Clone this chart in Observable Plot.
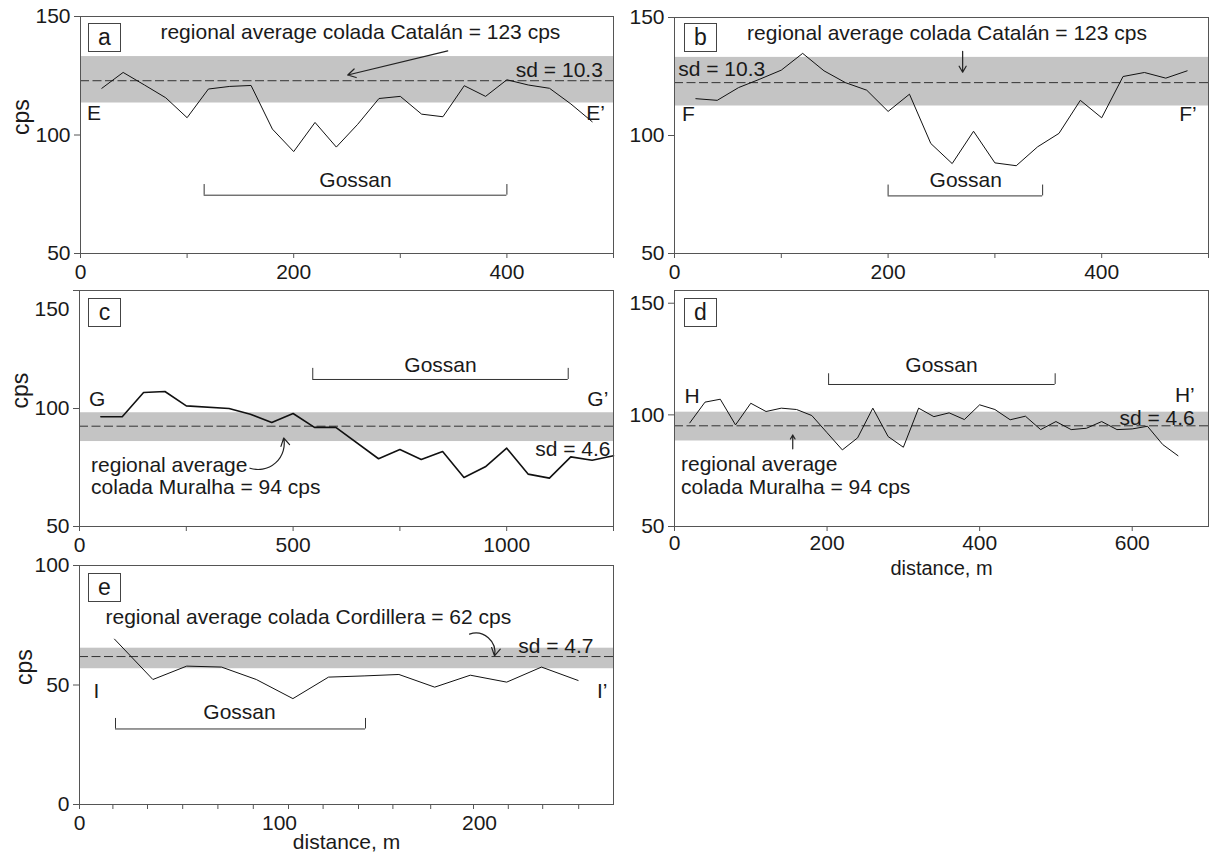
<!DOCTYPE html>
<html><head><meta charset="utf-8">
<script src="https://cdn.jsdelivr.net/npm/d3@7"></script>
<script src="https://cdn.jsdelivr.net/npm/@observablehq/plot@0.6"></script>
<style>
body{margin:0;background:#fff}
#fig{position:relative;width:1210px;height:859px;font-family:"Liberation Sans",Arial,sans-serif;overflow:hidden}
#fig svg{position:absolute}
.box{position:absolute;width:31px;height:27px;border:1px solid #444;background:#fff;font-size:23px;line-height:26px;text-align:center;color:#1a1a1a}
</style>
</head><body><div id="fig"></div>
<script>
// ---- data ----
const aX = [20,40,60,80,100,120,140,160,180,200,220,240,260,280,300,320,340,360,380,400,420,440,460,480];
const aY = [119.7,126.4,121.1,115.7,107.3,119.4,120.5,120.9,102.5,93.0,105.3,94.9,104.5,115.4,116.3,108.8,107.7,120.8,116.3,123.3,121.1,119.7,113.1,105.6];
const bX = [20,40,60,80,100,120,140,160,180,200,220,240,260,280,300,320,340,360,380,400,420,440,460,480];
const bY = [115.6,114.9,120.3,123.9,127.7,134.8,127.4,122.4,119.2,110.2,117.5,96.6,88.1,101.8,88.4,87.2,95.2,100.9,114.9,107.5,125,126.7,124.3,127.4];
const cX = [50,100,150,200,250,350,400,450,500,550,600,700,750,800,850,900,950,1000,1050,1100,1150,1200,1250];
const cY = [96.5,96.5,106.8,107.2,101.1,100,97.6,94.1,97.9,92,92,78.7,82.6,78.4,81.8,70.8,75.3,83.2,72.2,70.5,79.5,78.1,80];
const dX = [20,40,60,80,100,120,140,160,180,200,220,240,260,280,300,320,340,360,380,400,420,440,460,480,500,520,540,560,580,600,620,640,660];
const dY = [96.4,105.7,107,95.5,105.2,101.5,103,102.4,99.7,92,84.3,89.7,103,90.3,85.5,103,99.2,100.9,97.9,104.5,102.4,97.8,99.4,93.4,97,93.4,94,97,93.4,93.7,94.9,86.7,81.7];
const eX = [17.5,36.7,53.6,71,88.4,106.7,124.5,142.3,159.7,177.6,195.4,213.6,231,249.3];
const eY = [69.2,52.3,57.9,57.5,52.3,44.3,53.3,53.8,54.4,49.1,54.1,51.2,57.5,51.9];

// regional average bands (mean, lower, upper as drawn)
const bandA = {mean:122.9, lo:113.5, hi:133.1};
const bandB = {mean:122.4, lo:112.5, hi:133.1};
const bandC = {mean:92.5, lo:86, hi:98.2};
const bandD = {mean:95.1, lo:88.3, hi:101.2};
const bandE = {mean:61.9, lo:56.8, hi:65.4};

// gossan extents
const gossanA = [116,400], gossanB = [200,344.7], gossanC = [546,1144], gossanD = [202,499], gossanE = [18,143];

// tick labels
const ticksAB = [0,100,200,300,400,500], labelsAB = [0,200,400];
const ticksC = [0,250,500,750,1000,1250], labelsC = [0,500,1000];
const ticksD = [0,200,400,600], labelsD = [0,200,400,600];
const ticksE = [0,16.7,34,51.6,69.2,86.9,104.5,121.8,139.5,156.7,175.6,197,214.4,231.6,249.6], labelsE = [0,100,200];
const yTicks150 = [50,100,150], yTicksE = [0,50,100];

const FONT = "Liberation Sans, Arial, sans-serif";
const TXT = "#1a1a1a";

const panels = [
 {id:"a", x:aX, y:aY, band:bandA, gossan:gossanA, gY:74.6, gTop:79.1, lw:1,
  pos:{left:0, top:0, width:625, height:290, mL:80, mR:12, mT:16, mB:37},
  xDomain:[0,500], yDomain:[50,150], xTicks:ticksAB, xLabels:labelsAB, yTicks:yTicks150,
  cps:-59, box:[88,23],
  texts:[{x:75,y:143.3,t:"regional average colada Catalán = 123 cps"},
         {x:490,y:127.2,t:"sd = 10.3",a:"end"},
         {x:6,y:109,t:"E"},{x:492,y:109,t:"E’",a:"end"},
         {x:258,y:80.8,t:"Gossan",a:"middle"}],
  arrows:[{x1:344.5,y1:135.5,x2:250.7,y2:125.3,bend:0}]},
 {id:"b", x:bX, y:bY, band:bandB, gossan:gossanB, gY:74.4, gTop:79, lw:1,
  pos:{left:600, top:0, width:610, height:290, mL:74, mR:2, mT:17, mB:37},
  xDomain:[0,500], yDomain:[50,150], xTicks:ticksAB, xLabels:labelsAB, yTicks:yTicks150,
  box:[684,23],
  texts:[{x:68,y:143.3,t:"regional average colada Catalán = 123 cps"},
         {x:3.5,y:128,t:"sd = 10.3"},
         {x:7,y:109,t:"F"},{x:489,y:109,t:"F’",a:"end"},
         {x:272.7,y:81,t:"Gossan",a:"middle"}],
  arrows:[{x1:269.8,y1:135.7,x2:269.8,y2:126.8,bend:0}]},
 {id:"c", x:cX, y:cY, band:bandC, gossan:gossanC, gY:112.3, gTop:117, lw:1.6,
  pos:{left:0, top:280, width:625, height:290, mL:79, mR:12, mT:10, mB:44},
  xDomain:[0,1250], yDomain:[50,150], xTicks:ticksC, xLabels:labelsC, yTicks:yTicks150, shift150:19,
  cps:-59, box:[88,298],
  texts:[{x:22,y:104.1,t:"G"},{x:1238,y:104.1,t:"G’",a:"end"},
         {x:1243,y:82.9,t:"sd = 4.6",a:"end"},
         {x:27,y:76.1,t:"regional average"},{x:27,y:66.5,t:"colada Muralha = 94 cps"},
         {x:845,y:118.4,t:"Gossan",a:"middle"}],
  arrows:[{x1:399,y1:74.7,x2:478,y2:87.5,bend:-60}]},
 {id:"d", x:dX, y:dY, band:bandD, gossan:gossanD, gY:113.6, gTop:118.4, lw:1,
  pos:{left:600, top:280, width:610, height:300, mL:74, mR:2, mT:10, mB:54},
  xDomain:[0,700], yDomain:[50,155.7], xTicks:ticksD, xLabels:labelsD, yTicks:yTicks150, xPad:4,
  xTitle:"distance, m", xTitleDy:48, xTitleSize:20, box:[684,298],
  texts:[{x:13,y:108.4,t:"H"},{x:682,y:108.6,t:"H’",a:"end"},
         {x:682,y:98.4,t:"sd = 4.6",a:"end"},
         {x:8.5,y:77.7,t:"regional average"},{x:8.5,y:67.5,t:"colada Muralha = 94 cps"},
         {x:350,y:122,t:"Gossan",a:"middle"}],
  arrows:[{x1:155,y1:84.8,x2:155,y2:91,bend:0}]},
 {id:"e", x:eX, y:eY, band:bandE, gossan:gossanE, gY:31.6, gTop:36, lw:1,
  pos:{left:0, top:555, width:625, height:304, mL:79, mR:12, mT:10, mB:55},
  xDomain:[0,267], yDomain:[0,100], xTicks:ticksE, xLabels:labelsE, yTicks:yTicksE, eAxis:true,
  cps:-55, xTitle:"distance, m", xTitleDy:44, box:[88,573],
  texts:[{x:7,y:47.4,t:"I"},{x:264,y:47.4,t:"I’",a:"end"},
         {x:13,y:78.5,t:"regional average colada Cordillera = 62 cps"},
         {x:257,y:66,t:"sd = 4.7",a:"end"},
         {x:80,y:38.4,t:"Gossan",a:"middle"}],
  arrows:[{x1:195,y1:71.3,x2:207.5,y2:62.2,bend:60}]}
];

const fig = document.getElementById("fig");

for (const p of panels) {
  const pts = p.x.map((x,i) => ({x, y:p.y[i]}));
  const marks = [
    Plot.rect([p.band], {y1:"lo", y2:"hi", fill:"#c4c4c4"}),
    Plot.ruleY([p.band.mean], {stroke:"#333", strokeWidth:1, strokeDasharray:"9,3.5"}),
    Plot.line(pts, {x:"x", y:"y", stroke:"#111", strokeWidth:p.lw}),
    Plot.ruleY([p.gossan], {x1:d=>d[0], x2:d=>d[1], y:p.gY, stroke:"#333", strokeWidth:1}),
    Plot.ruleX(p.gossan, {x:d=>d, y1:p.gY, y2:p.gTop, stroke:"#333", strokeWidth:1}),
    ...p.texts.map(t => Plot.text([t], {x:"x", y:"y", text:"t", textAnchor:t.a||"start", fontSize:21, fill:TXT})),
    ...p.arrows.map(a => Plot.arrow([a], {x1:"x1", y1:"y1", x2:"x2", y2:"y2", bend:a.bend, stroke:"#222", strokeWidth:1.2, headLength:11})),
    Plot.frame({stroke:"#555"})
  ];
  if (p.eAxis) {
    marks.push(Plot.axisX({ticks:p.xTicks, tickFormat:()=>"", tickSize:5, stroke:"#555", label:null}));
    marks.push(Plot.axisX({ticks:p.xLabels, tickSize:0, tickPadding:11, fontSize:21, fill:TXT, label:null}));
  } else {
    marks.push(Plot.axisX({ticks:p.xTicks, tickFormat:d => p.xLabels.includes(d) ? String(d) : "", tickSize:5, tickPadding:p.xPad ?? 6, fontSize:21, stroke:"#555", fill:TXT, label:null}));
  }
  if (p.shift150) {
    marks.push(Plot.axisY({ticks:p.yTicks, tickFormat:d => d === 150 ? "" : String(d), tickSize:6, tickPadding:4, fontSize:21, stroke:"#555", fill:TXT, label:null}));
    marks.push(Plot.text([150], {y:d=>d, text:d=>String(d), frameAnchor:"left", textAnchor:"end", dx:-10, dy:p.shift150, fontSize:21, fill:TXT}));
  } else {
    marks.push(Plot.axisY({ticks:p.yTicks, tickSize:6, tickPadding:4, fontSize:21, stroke:"#555", fill:TXT, label:null}));
  }
  if (p.cps !== undefined) marks.push(Plot.text(["cps"], {frameAnchor:"left", dx:p.cps, rotate:-90, fontSize:23, fill:TXT, text:d=>d}));
  if (p.xTitle) marks.push(Plot.text([p.xTitle], {frameAnchor:"bottom", dy:p.xTitleDy, fontSize:p.xTitleSize ?? 21, fill:TXT, text:d=>d}));

  const svg = Plot.plot({
    width:p.pos.width, height:p.pos.height,
    marginLeft:p.pos.mL, marginRight:p.pos.mR, marginTop:p.pos.mT, marginBottom:p.pos.mB,
    x:{domain:p.xDomain}, y:{domain:p.yDomain},
    style:{fontFamily:FONT, fontSize:"21px", background:"transparent", overflow:"visible", color:TXT},
    marks
  });
  svg.style.left = p.pos.left + "px";
  svg.style.top = p.pos.top + "px";
  svg.style.maxWidth = "none";
  fig.appendChild(svg);

  const box = document.createElement("div");
  box.className = "box";
  box.style.left = p.box[0] + "px";
  box.style.top = p.box[1] + "px";
  box.textContent = p.id;
  fig.appendChild(box);
}
</script>
</body></html>
